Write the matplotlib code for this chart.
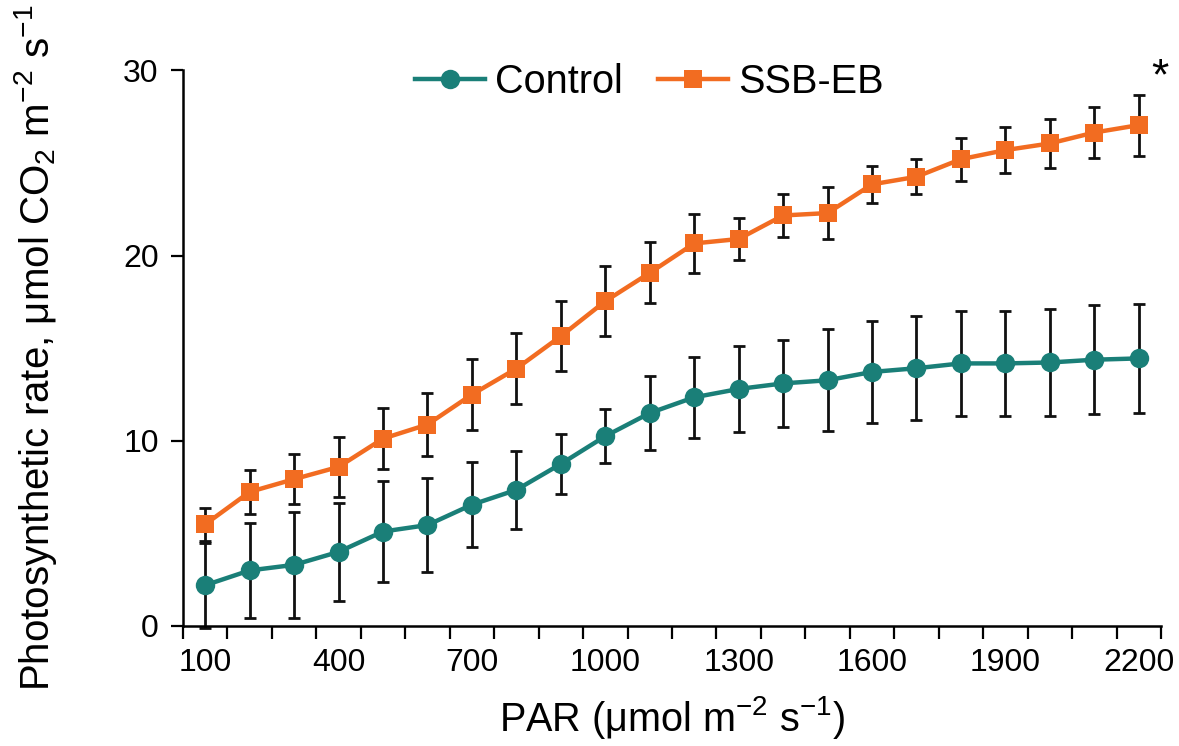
import matplotlib
matplotlib.use("Agg")
import matplotlib.pyplot as plt
import numpy as np

plt.rcParams['font.family'] = ['Liberation Sans', 'DejaVu Sans']
plt.rcParams['mathtext.fontset'] = 'custom'
plt.rcParams['mathtext.rm'] = 'Liberation Sans'
plt.rcParams['mathtext.it'] = 'Liberation Sans:italic'

par = [100, 200, 300, 400, 500, 600, 700, 800, 900, 1000, 1100,
       1200, 1300, 1400, 1500, 1600, 1700, 1800, 1900, 2000, 2100, 2200]
control_mean = [2.2, 3.0, 3.3, 4.0, 5.1, 5.45, 6.55, 7.35, 8.75, 10.25, 11.5,
                12.35, 12.8, 13.1, 13.27, 13.72, 13.92, 14.18, 14.18, 14.23, 14.38, 14.45]
control_err = [2.3, 2.55, 2.85, 2.65, 2.73, 2.55, 2.3, 2.1, 1.6, 1.46, 2.0,
               2.2, 2.3, 2.35, 2.75, 2.75, 2.8, 2.85, 2.85, 2.9, 2.95, 2.95]
ssb_mean = [5.49, 7.24, 7.93, 8.59, 10.12, 10.88, 12.5, 13.9, 15.65, 17.54, 19.07,
            20.66, 20.9, 22.17, 22.3, 23.85, 24.26, 25.21, 25.7, 26.06, 26.65, 27.05]
ssb_err = [0.9, 1.2, 1.35, 1.6, 1.65, 1.7, 1.9, 1.9, 1.9, 1.9, 1.65,
           1.6, 1.13, 1.15, 1.4, 1.0, 0.95, 1.17, 1.25, 1.33, 1.4, 1.65]
tick_labels = [100, 400, 700, 1000, 1300, 1600, 1900, 2200]
y_ticks = [0, 10, 20, 30]

teal = '#1a7f78'
orange = '#f26c21'

fig = plt.figure(figsize=(11.79, 7.46), dpi=100)
ax = fig.add_axes([0.1552, 0.1609, 0.8295, 0.7446])

for mean, err, color, marker, ms, label in [
        (control_mean, control_err, teal, 'o', 14, 'Control'),
        (ssb_mean, ssb_err, orange, 's', 13, 'SSB-EB')]:
    ax.errorbar(par, mean, yerr=err, fmt='none', ecolor='#111111', elinewidth=2.0,
                capsize=4.5, capthick=2.0, clip_on=False, zorder=2)
    ax.plot(par, mean, color=color, lw=3.2, marker=marker, markersize=ms,
            markeredgewidth=0, label=label, clip_on=False, zorder=3)

ax.set_xlim(50, 2250)
ax.set_ylim(0, 30)
ax.set_xticks(tick_labels)
ax.set_xticklabels([str(t) for t in tick_labels])
ax.set_xticks(np.arange(50, 2251, 100), minor=True)
ax.set_yticks(y_ticks)
ax.tick_params(axis='x', which='major', length=0, pad=16, labelsize=23)
ax.tick_params(axis='x', which='minor', length=9, width=1.6, direction='out')
ax.tick_params(axis='y', which='major', length=8.5, width=1.6, pad=9, labelsize=23)

for s in ['top', 'right']:
    ax.spines[s].set_visible(False)
for s in ['left', 'bottom']:
    ax.spines[s].set_linewidth(1.8)

ax.set_xlabel('PAR (\u03bcmol m$^{\u22122}$ s$^{\u22121}$)', fontsize=28.5, va='center')
ax.xaxis.set_label_coords(0.5, -0.165)
ax.set_ylabel('Photosynthetic rate, \u03bcmol CO$_2$ m$^{\u22122}$ s$^{\u22121}$',
              fontsize=29, va='center')
ax.yaxis.set_label_coords(-0.151, 0.5)

leg = ax.legend(loc='center', bbox_to_anchor=(0.477, 0.98), ncol=2, frameon=False,
                fontsize=28.5, handlelength=1.75, columnspacing=0.9, handletextpad=0.26)

ax.text(2247, 29.6, '*', fontsize=32, ha='center', va='center', clip_on=False)

fig.savefig('out.png', dpi=100)
